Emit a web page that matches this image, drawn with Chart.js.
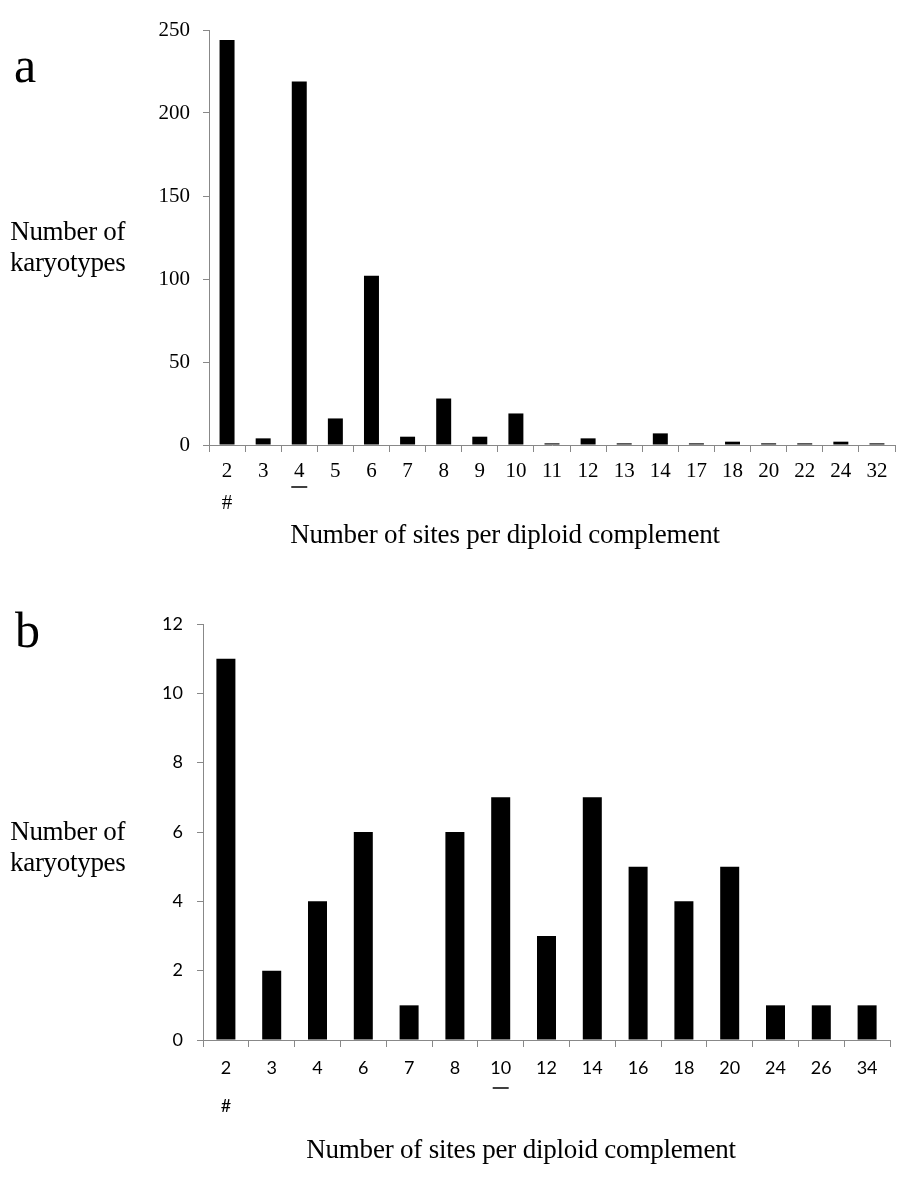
<!DOCTYPE html>
<html>
<head>
<meta charset="utf-8">
<script src="https://cdn.jsdelivr.net/npm/chart.js@4.4.0/dist/chart.umd.min.js"></script>
<style>
  html, body { margin:0; padding:0; background:#fff; }
  #wrap { position:relative; width:910px; height:1182px; overflow:hidden; }
  canvas { position:absolute; left:0; }
  .txt { position:absolute; font-family:"Liberation Serif","Times New Roman",serif; color:#000; white-space:nowrap; }
  .panel { font-size:50px; line-height:1; }
  .ytitle { font-size:27px; line-height:31px; text-align:center; letter-spacing:-0.3px; }
  .xtitle { font-size:27px; line-height:1; transform:translateX(-50%); letter-spacing:-0.2px; }
</style>
</head>
<body>
<div id="wrap">
  <canvas id="ca" width="910" height="591" style="top:0px"></canvas>
  <canvas id="cb" width="910" height="591" style="top:591px"></canvas>
  <div class="txt panel" style="left:14px; top:40px;">a</div>
  <div class="txt ytitle" style="left:10px; top:216px;">Number of<br>karyotypes</div>
  <div class="txt xtitle" style="left:505px; top:521px;">Number of sites per diploid complement</div>
  <div class="txt panel" style="left:15px; top:605px;">b</div>
  <div class="txt ytitle" style="left:10px; top:816px;">Number of<br>karyotypes</div>
  <div class="txt xtitle" style="left:521px; top:1136px;">Number of sites per diploid complement</div>
</div>
<script>
// ---- data ----
const catsA = ['2','3','4','5','6','7','8','9','10','11','12','13','14','17','18','20','22','24','32'];
const valsA = [244, 4, 219, 16, 102, 5, 28, 5, 19, 1, 4, 1, 7, 1, 2, 1, 1, 2, 1];
const yTicksA = [0, 50, 100, 150, 200, 250];

const catsB = ['2','3','4','6','7','8','10','12','14','16','18','20','24','26','34'];
const valsB = [11, 2, 4, 6, 1, 6, 7, 3, 7, 5, 4, 5, 1, 1, 1];
const yTicksB = [0, 2, 4, 6, 8, 10, 12];

const hashCatA = '2', underlineCatA = '4';
const hashCatB = '2', underlineCatB = '10';

const AXIS = '#888888';

const underlinePlugin = {
  id: 'underline',
  afterDraw(chart, args, opts) {
    const xs = chart.scales.x;
    const idx = chart.data.labels.indexOf(opts.cat);
    if (idx < 0) return;
    const x = xs.getPixelForValue(idx);
    const y = xs.top + opts.dy;
    const ctx = chart.ctx;
    ctx.save();
    ctx.strokeStyle = '#000';
    ctx.lineWidth = 1.5;
    ctx.beginPath();
    ctx.moveTo(x - opts.w / 2, y);
    ctx.lineTo(x + opts.w / 2, y);
    ctx.stroke();
    ctx.restore();
  }
};

function makeChart(id, cats, vals, yTicks, hashCat, underlineCat, cfg) {
  return new Chart(document.getElementById(id), {
    type: 'bar',
    data: {
      labels: cats,
      datasets: [{
        data: vals,
        backgroundColor: '#000',
        borderWidth: 0,
        barPercentage: 1.0,
        categoryPercentage: 0.415
      }]
    },
    options: {
      responsive: false,
      animation: false,
      devicePixelRatio: 1,
      layout: { padding: { top: cfg.top, right: cfg.right, left: 0, bottom: 0 } },
      plugins: {
        legend: { display: false },
        tooltip: { enabled: false },
        underline: { cat: underlineCat, dy: cfg.ulDy, w: 16 }
      },
      scales: {
        x: {
          offset: true,
          border: { display: true, color: AXIS, width: 1 },
          grid: { display: true, offset: true, drawOnChartArea: false, drawTicks: true, tickLength: 7, color: AXIS },
          ticks: {
            color: '#000',
            padding: cfg.xPad,
            maxRotation: 0,
            autoSkip: false,
            font: { family: cfg.tickFont, size: cfg.tickSize, lineHeight: cfg.xLine },
            callback: function (v) {
              const l = this.getLabelForValue(v);
              return l === hashCat ? [l, '#'] : l;
            }
          },
          afterFit: s => { s.height = cfg.xH; }
        },
        y: {
          min: yTicks[0],
          max: yTicks[yTicks.length - 1],
          border: { display: true, color: AXIS, width: 1 },
          grid: { display: true, drawOnChartArea: false, drawTicks: true, tickLength: 6, color: AXIS },
          afterBuildTicks: s => { s.ticks = yTicks.map(v => ({ value: v })); },
          ticks: {
            color: '#000',
            padding: cfg.yPad,
            font: { family: cfg.tickFont, size: cfg.tickSize }
          },
          afterFit: s => { s.width = cfg.yW; }
        }
      }
    },
    plugins: [underlinePlugin]
  });
}

makeChart('ca', catsA, valsA, yTicksA, hashCatA, underlineCatA, {
  top: 30, right: 15, xH: 146, yW: 209,
  tickFont: '"Liberation Serif", "Times New Roman", serif', tickSize: 21,
  xPad: 4, xLine: 1.5, yPad: 13, ulDy: 42
});

makeChart('cb', catsB, valsB, yTicksB, hashCatB, underlineCatB, {
  top: 33, right: 20, xH: 142, yW: 203,
  tickFont: 'Lato, "Liberation Sans", sans-serif', tickSize: 18,
  xPad: 2, xLine: 2.1, yPad: 14, ulDy: 48
});
</script>
</body>
</html>
